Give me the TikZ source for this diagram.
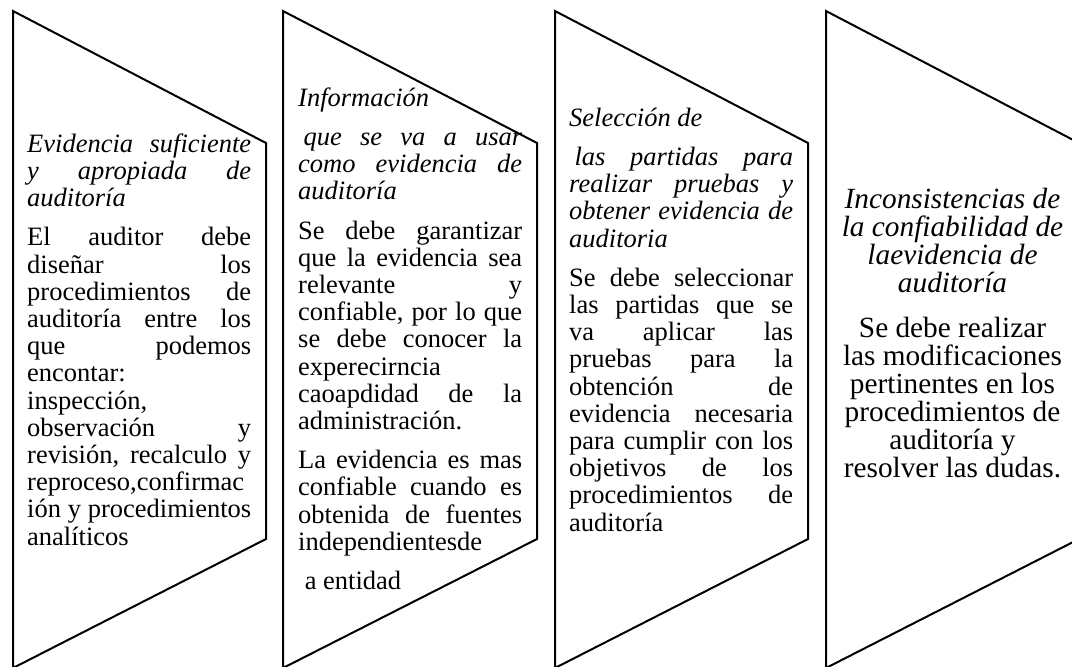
\documentclass[tikz,border=0pt]{standalone}
\usepackage{fontspec}
\setmainfont{Liberation Serif}[Ligatures=NoCommon]
\hbadness=10000
\hfuzz=8pt
\newdimen\tw
\tw=224pt
\newcommand\fixsp{\frenchspacing\spaceskip=0.25em\relax}
\newcommand\J[1]{\leavevmode\hbox to \tw{\spaceskip=0.25em plus 1fil\relax #1}}
\newcommand\topr{\leavevmode\rule{0pt}{20pt}}
\newcommand\toprb{\leavevmode\rule{0pt}{21pt}}
\tikzset{
  chev/.style={draw=black, line width=2pt, line join=miter},
  txt/.style={anchor=north west, inner sep=0pt, text width=\tw, align=left,
    font=\fontsize{26.5}{27.2}\selectfont},
  ctxt/.style={anchor=north, inner sep=0pt, text width=250pt, align=center,
    font=\fontsize{29.3}{28}\selectfont},
}
\begin{document}
\begin{tikzpicture}[x=1pt,y=-1pt]
\useasboundingbox (0,0) rectangle (1072,667);
\fill[white] (0,0) rectangle (1072,667);
% chevron shapes
\draw[chev] (13,11) -- (266,143) -- (266,539) -- (13,668) -- cycle;
\draw[chev] (283,11) -- (537,143) -- (537,539) -- (283,668) -- cycle;
\draw[chev] (555,11) -- (808,143) -- (808,539) -- (555,668) -- cycle;
\draw[chev] (826,11) -- (1079,143) -- (1079,539) -- (826,668) -- cycle;
% box 1
\node[txt] (t1) at (27,132) {\fixsp\itshape\topr\J{Evidencia suficiente}\\
\J{y apropiada de}\\
auditoría\\[12pt]
\upshape\J{El auditor debe}\\
\J{diseñar los}\\
\J{procedimientos de}\\
\J{auditoría entre los}\\
\J{que podemos}\\
encontar:\\
inspección,\\
\J{observación y}\\
\J{revisión, recalculo y}\\
reproceso,confirmac\\
\J{ión y procedimientos}\\
analíticos};
% box 2
\node[txt] (t2) at (298,86) {\fixsp\itshape\topr Información\\[12pt]
\J{\kern0.2em que se va a usar}\\
\J{como evidencia de}\\
auditoría\\[12pt]
\upshape\J{Se debe garantizar}\\
\J{que la evidencia sea}\\
\J{relevante y}\\
\J{confiable, por lo que}\\
\J{se debe conocer la}\\
experecirncia\\
\J{caoapdidad de la}\\
administración.\\[12pt]
\J{La evidencia es mas}\\
\J{confiable cuando es}\\
\J{obtenida de fuentes}\\
independientesde\\[12pt]
\hspace*{0.25em}a entidad};
% box 3
\node[txt] (t3) at (569,106) {\fixsp\itshape\topr Selección de\\[12pt]
\J{\kern0.2em las partidas para}\\
\J{realizar pruebas y}\\
\J{obtener evidencia de}\\
auditoria\\[12pt]
\upshape\J{Se debe seleccionar}\\
\J{las partidas que se}\\
\J{va aplicar las}\\
\J{pruebas para la}\\
\J{obtención de}\\
\J{evidencia necesaria}\\
\J{para cumplir con los}\\
\J{objetivos de los}\\
\J{procedimientos de}\\
auditoría};
% box 4
\node[ctxt] (t4h) at (952.5,187) {\fixsp\itshape\toprb Inconsistencias de\\
la confiabilidad de\\
laevidencia de\\
auditoría};
\node[ctxt] (t4b) at (952.5,316) {\fixsp\toprb Se debe realizar\\
las modificaciones\\
pertinentes en los\\
procedimientos de\\
auditoría y\\
resolver las dudas.};
\end{tikzpicture}
\end{document}
